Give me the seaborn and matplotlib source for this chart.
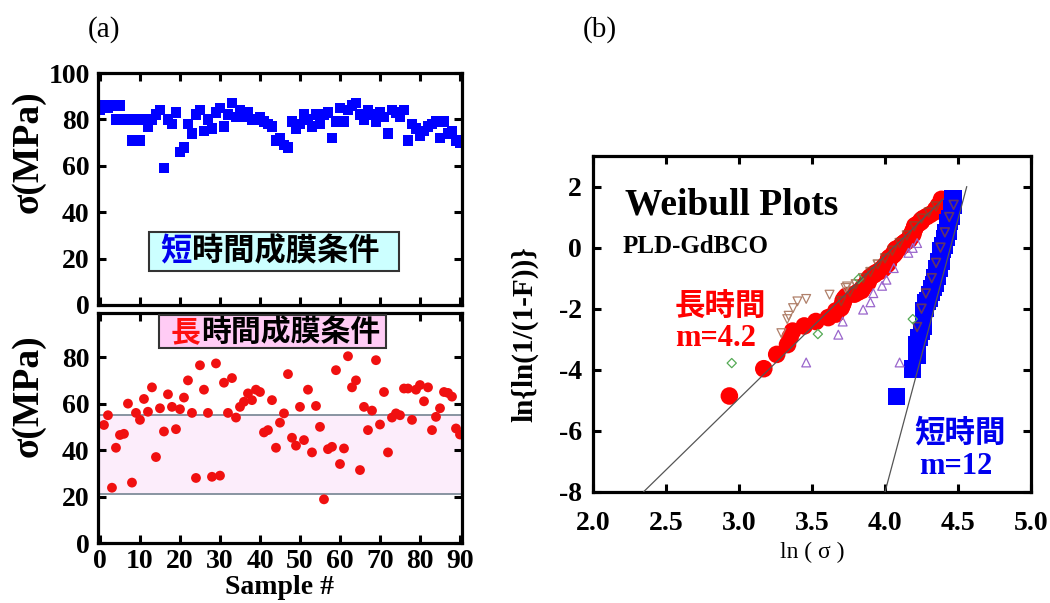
import numpy as np
import pandas as pd
import matplotlib
matplotlib.use("Agg")
import matplotlib.pyplot as plt
import seaborn as sns
from matplotlib.patches import Rectangle

sns.set_theme(style="ticks")
plt.rcParams['font.family'] = ['Liberation Serif', 'Noto Sans CJK JP']
plt.rcParams['axes.unicode_minus'] = False
plt.rcParams['text.color'] = 'black'
plt.rcParams['axes.labelcolor'] = 'black'
plt.rcParams['xtick.color'] = 'black'
plt.rcParams['ytick.color'] = 'black'

# (a) 短時間成膜条件: strength per sample (MPa), samples 0..90
short_sigma = [84, 86, 85, 86, 80, 86, 80, 80, 71, 80, 71, 80, 77, 80, 82, 84, 59, 80,
               78, 83, 66, 68, 78, 74, 82, 84, 75, 80, 76, 83, 85, 77, 82, 87, 81, 84,
               81, 83, 80, 80, 81, 79, 78, 77, 71, 72, 69, 68, 79, 76, 78, 82, 80, 77,
               82, 78, 82, 83, 72, 79, 85, 79, 84, 86, 87, 82, 80, 84, 82, 79, 83, 81,
               74, 84, 83, 81, 84, 71, 78, 76, 73, 75, 77, 78, 79, 72, 79, 74, 75, 71, 70]

# (a) 長時間成膜条件: strength per sample (MPa), samples 1..90
long_sigma = [50.8, 55, 23.8, 41, 46.5, 47, 60, 26, 56, 53, 62, 56.5, 67, 37, 58, 48,
              64, 58.6, 49, 57.6, 62.6, 70, 56, 28, 76.5, 66, 56, 28.5, 77.3, 29, 69, 56,
              71, 54, 58.6, 60.8, 64.4, 61.5, 66, 65, 47.6, 48.6, 61.5, 41, 51.8, 55.8,
              72.7, 45.3, 41.9, 58.6, 44.3, 66, 39, 59, 50, 18.8, 40.4, 41.4, 74.4, 34,
              40.7, 80.4, 67, 70, 31.4, 58.6, 48.6, 57, 78.7, 51, 65, 39, 54, 55.8, 55,
              66.5, 66.5, 53, 66, 68, 61, 67, 48.6, 54.3, 58, 65, 64.6, 63, 49.3, 46.7]

band_low, band_high = 21, 55

# (b) fitted lines (end points)
fit_long_x = [2.345, 4.40]
fit_long_y = [-8.0, 1.6]
fit_short_x = [4.00, 4.56]
fit_short_y = [-8.0, 2.0]

# (b) other data sets drawn as small open symbols
diamond_x = [2.95, 3.54, 3.82, 4.19]
diamond_y = [-3.78, -2.83, -1.02, -2.34]
up_tri_x = [3.46, 3.68, 3.71, 3.85, 3.90, 3.92, 3.98, 4.01, 4.06, 4.10, 4.16, 4.19, 4.22]
up_tri_y = [-3.76, -2.85, -2.42, -2.03, -1.79, -1.49, -1.25, -1.05, -0.67, -3.76, -0.17, -0.01, 0.15]
down_tri_x = [3.29, 3.33, 3.34, 3.37, 3.40, 3.46, 3.62, 3.73, 3.74]
down_tri_y = [-2.80, -2.34, -2.23, -1.98, -1.76, -1.68, -1.54, -1.32, -1.27]
# dark symbols seen inside the two dense bands
overlay_x = [3.70, 3.76, 3.80, 3.85, 3.90, 3.95, 4.00, 4.05, 4.10, 4.15, 4.20, 4.25, 4.30, 4.35,
             4.22, 4.25, 4.28, 4.32, 4.35, 4.38, 4.41, 4.44, 4.47]
overlay_y = [-1.75, -1.45, -1.2, -1.0, -0.8, -0.55, -0.35, -0.1, 0.15, 0.4, 0.7, 0.95, 1.15, 1.35,
             -2.6, -2.0, -1.5, -1.0, -0.5, 0.0, 0.5, 1.0, 1.4]

df_short = pd.DataFrame({'sample': np.arange(len(short_sigma)), 'sigma': short_sigma})
df_long = pd.DataFrame({'sample': np.arange(1, len(long_sigma) + 1), 'sigma': long_sigma})


def weibull(values):
    # Weibull plot of the same samples, median-rank estimate of F
    s = np.sort(np.asarray(values, dtype=float))
    n = len(s)
    F = (np.arange(1, n + 1) - 0.3) / (n + 0.4)
    return pd.DataFrame({'x': np.log(s), 'y': np.log(np.log(1.0 / (1.0 - F)))})


wb_long = weibull(long_sigma)
wb_short = weibull(short_sigma)

fig = plt.figure(figsize=(10.5, 6.03), dpi=100)
ax1 = fig.add_axes([0.0933, 0.4942, 0.3467, 0.3847])
ax2 = fig.add_axes([0.0933, 0.0995, 0.3467, 0.3814])
ax3 = fig.add_axes([0.5648, 0.1841, 0.4171, 0.5572])


def style_axes(ax, pad=6):
    for sp in ax.spines.values():
        sp.set_linewidth(2.3)
        sp.set_color('black')
    ax.tick_params(direction='in', length=6, width=2.2, top=True, right=True,
                   pad=pad, colors='black')
    for lab in ax.get_xticklabels() + ax.get_yticklabels():
        lab.set_fontsize(20)
        lab.set_fontweight('bold')


# --- top: short time ---
sns.scatterplot(data=df_short, x='sample', y='sigma', ax=ax1, marker='s', s=58,
                color='#0000ff', edgecolor='none', linewidth=0, legend=False)
ax1.set_xlim(-0.5, 90.5)
ax1.set_ylim(0, 100)
ax1.set_xticks(range(0, 91, 10))
ax1.set_xticklabels([])
ax1.set_yticks(range(0, 101, 20))
ax1.set_xlabel('')
ax1.set_ylabel('σ(MPa)', fontsize=27, fontweight='bold')
ax1.yaxis.set_label_coords(-0.145, 0.66)
style_axes(ax1)
ax1.add_patch(Rectangle((0.140, 0.147), 0.687, 0.168, transform=ax1.transAxes,
                        facecolor='#ccffff', edgecolor='#333333', lw=1.5, zorder=3))
t1 = ax1.text(0.172, 0.231, '短', transform=ax1.transAxes, color='#0000ee',
              fontsize=22.5, fontweight='bold', va='center', ha='left', zorder=4,
              family=['Noto Sans CJK JP'])
ax1.annotate('時間成膜条件', xy=(1, 0.5), xycoords=t1, va='center', ha='left',
             fontsize=22.5, fontweight='bold', color='black', zorder=4,
             family=['Noto Sans CJK JP'])

# --- bottom: long time ---
ax2.axhspan(band_low, band_high, facecolor='#fcedfb', edgecolor='none', zorder=0)
ax2.axhline(band_low, color='#7f8c9a', lw=1.3, zorder=1)
ax2.axhline(band_high, color='#7f8c9a', lw=1.3, zorder=1)
sns.scatterplot(data=df_long, x='sample', y='sigma', ax=ax2, marker='o', s=50,
                color='#f01010', edgecolor='none', linewidth=0, legend=False, zorder=2)
ax2.set_xlim(-0.5, 90.5)
ax2.set_ylim(0, 99)
ax2.set_xticks(range(0, 91, 10))
ax2.set_yticks(range(0, 81, 20))
ax2.set_xlabel('Sample #', fontsize=20, fontweight='bold')
ax2.xaxis.set_label_coords(0.5, -0.14)
ax2.set_ylabel('σ(MPa)', fontsize=27, fontweight='bold')
ax2.yaxis.set_label_coords(-0.145, 0.64)
style_axes(ax2)
ax2.tick_params(axis='x', pad=4)
ax2.add_patch(Rectangle((0.168, 0.848), 0.623, 0.143, transform=ax2.transAxes,
                        facecolor='#ffccf5', edgecolor='#333333', lw=1.5, zorder=3))
t2 = ax2.text(0.200, 0.918, '長', transform=ax2.transAxes, color='#ff1010',
              fontsize=21.5, fontweight='bold', va='center', ha='left', zorder=4,
              family=['Noto Sans CJK JP'])
ax2.annotate('時間成膜条件', xy=(1, 0.5), xycoords=t2, va='center', ha='left',
             fontsize=21.5, fontweight='bold', color='black', zorder=4,
             family=['Noto Sans CJK JP'])

# --- (b) Weibull plots ---
sns.scatterplot(data=wb_long, x='x', y='y', ax=ax3, marker='o', s=160,
                color='#ff0000', edgecolor='none', linewidth=0, legend=False, zorder=2)
sns.scatterplot(data=wb_short, x='x', y='y', ax=ax3, marker='s', s=160,
                color='#0000ff', edgecolor='none', linewidth=0, legend=False, zorder=2)
ax3.scatter(overlay_x, overlay_y, marker='v', s=40, facecolors='none',
            edgecolors='#8a4a2a', linewidths=1.2, alpha=0.7, zorder=3)
ax3.scatter(diamond_x, diamond_y, marker='D', s=22, facecolors='none',
            edgecolors='#55aa55', linewidths=0.9, zorder=3)
ax3.scatter(up_tri_x, up_tri_y, marker='^', s=40, facecolors='none',
            edgecolors='#9a66cc', linewidths=0.9, zorder=3)
ax3.scatter(down_tri_x, down_tri_y, marker='v', s=40, facecolors='none',
            edgecolors='#b0806a', linewidths=0.9, zorder=3)
sns.lineplot(x=fit_long_x, y=fit_long_y, ax=ax3, color='#555555', lw=0.9, zorder=5)
sns.lineplot(x=fit_short_x, y=fit_short_y, ax=ax3, color='#555555', lw=0.9, zorder=5)
ax3.set_xlim(2.0, 5.0)
ax3.set_ylim(-8, 3)
ax3.set_xticks(np.arange(2.0, 5.01, 0.5))
ax3.set_xticklabels([f'{v:.1f}' for v in np.arange(2.0, 5.01, 0.5)])
ax3.set_yticks(range(-8, 3, 2))
ax3.set_xlabel('ln ( σ )', fontsize=17, labelpad=4)
ax3.set_ylabel('ln{ln(1/(1-F))}', fontsize=21, fontweight='bold')
ax3.yaxis.set_label_coords(-0.125, 0.47)
style_axes(ax3, pad=8)
ax3.tick_params(axis='x', pad=14)

ax3.text(0.073, 0.854, 'Weibull Plots', transform=ax3.transAxes, fontsize=27,
         fontweight='bold', va='center', ha='left')
ax3.text(0.068, 0.730, 'PLD-GdBCO', transform=ax3.transAxes, fontsize=18,
         fontweight='bold', va='center', ha='left')
ax3.text(0.29, 0.551, '長時間', transform=ax3.transAxes, fontsize=22, fontweight='bold',
         color='#ff0000', va='center', ha='center', family=['Noto Sans CJK JP'])
ax3.text(0.28, 0.458, 'm=4.2', transform=ax3.transAxes, fontsize=22, fontweight='bold',
         color='#ff0000', va='center', ha='center')
ax3.text(0.838, 0.176, '短時間', transform=ax3.transAxes, fontsize=22, fontweight='bold',
         color='#0000ee', va='center', ha='center', family=['Noto Sans CJK JP'])
ax3.text(0.829, 0.077, 'm=12', transform=ax3.transAxes, fontsize=22, fontweight='bold',
         color='#0000ee', va='center', ha='center')

fig.text(104 / 1050, 1 - 30 / 603, '(a)', fontsize=21, ha='center', va='center')
fig.text(600 / 1050, 1 - 30 / 603, '(b)', fontsize=21, ha='center', va='center')

fig.savefig('out.png', dpi=100)
